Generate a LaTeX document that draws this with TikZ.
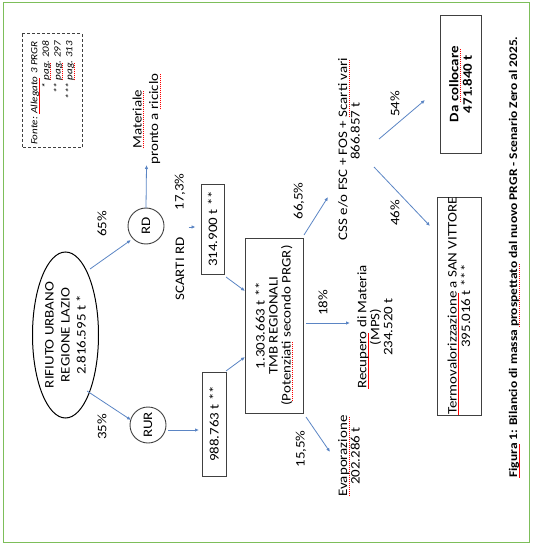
\documentclass[tikz,border=0pt]{standalone}
\usepackage{fontspec}
\setmainfont{Carlito}[FakeStretch=1.15]
\usetikzlibrary{arrows.meta,calc,shapes.geometric}
\definecolor{arr}{HTML}{5B85C4}
\definecolor{framec}{HTML}{7DBE5A}
\definecolor{boxc}{HTML}{404040}
\newsavebox\sqbox
\newcommand\sq[1]{\sbox\sqbox{#1}\rlap{\textcolor{red}{\raisebox{-2pt}{\hbox to \wd\sqbox{\leaders\hbox to 2pt{\rule{1.3pt}{0.6pt}\hss}\hfil}}}}\usebox\sqbox}
\begin{document}
\begin{tikzpicture}[x=1pt,y=-1pt,
  every node/.style={font=\fontsize{13}{13.5}\selectfont, rotate=90, inner sep=0pt, align=center},
  boxn/.style={draw=boxc, line width=0.9pt},
  con/.style={draw=arr, line width=0.8pt, -{Latex[length=4pt,width=3.5pt]}}]
\useasboundingbox (0,0) rectangle (532,545);
\draw[framec, line width=1pt] (3,3) rectangle (529,542);

% legend
\node[draw=boxc, line width=1pt, dash pattern=on 3pt off 2pt, minimum width=114, minimum height=60] (legbox) at (52,91) {};
\node[anchor=east, align=right, font=\itshape\fontsize{9.6}{11.7}\selectfont] (legtxt) at (52.5,41) {Fonte: \sq{Allegato} 3 PRGR\\* \sq{pag.} 208\\** \sq{pag.} 297\\*** \sq{pag.} 313};

% nodes
\node[ellipse, draw=black, line width=1pt, minimum width=166, minimum height=66, font=\fontsize{13}{16}\selectfont] (ell) at (65.5,335) {RIFIUTO URBANO\\REGIONE LAZIO\\2.816.595 t *};
\node[circle, draw=boxc, line width=0.9pt, minimum size=36] (rd) at (146,226) {RD};
\node[circle, draw=boxc, line width=0.9pt, minimum size=36] (rur) at (148,425) {RUR};
\node[font=\fontsize{13}{16.5}\selectfont] (mat) at (146.5,119) {\sq{Materiale}\\pronto a \sq{riciclo}};
\node (scarti) at (180,269) {SCARTI RD};
\node (p173) at (180,192) {17,3\%};
\node[boxn, minimum width=90, minimum height=23] (b314) at (212.5,229) {314.900 t **};
\node[boxn, minimum width=104, minimum height=24] (b988) at (214,424) {988.763 t **};
\node[boxn, minimum width=175, minimum height=58, font=\fontsize{13}{13}\selectfont] (tmb) at (274,325.5) {1.303.663 t **\\TMB REGIONALI\\(\sq{Potenziati} secondo PRGR)};
\node[font=\fontsize{13}{12.5}\selectfont] (css) at (349,149) {CSS e/o FSC + FOS + \sq{Scarti vari}\\\hspace*{36pt}866.857 t};
\node[font=\fontsize{13}{13}\selectfont] (rec) at (375,327) {\sq{Recupero} di Materia\\(MPS)\\234.520 t};
\node[font=\fontsize{13}{12.5}\selectfont] (evap) at (349,456) {\sq{Evaporazione}\\202.286 t};
\node[boxn, minimum width=218, minimum height=44, font=\fontsize{13}{13.5}\selectfont] (termo) at (459,306) {\sq{Termovalorizzazione} a SAN VITTORE\\395.016 t ***};
\node[boxn, minimum width=138, minimum height=41, font=\bfseries\fontsize{13}{13.5}\selectfont] (dac) at (460.5,84) {Da \sq{collocare}\\471.840 t};
\node[font=\bfseries\fontsize{11.7}{15}\selectfont] (cap) at (514,257) {\sq{Figura} 1: Bilancio di massa \sq{prospettato} dal nuovo PRGR - Scenario Zero al 2025.};

% percentages
\node (p65) at (102,224) {65\%};
\node (p35) at (102,427) {35\%};
\node (p665) at (299,201) {66,5\%};
\node (p18) at (323,303) {18\%};
\node (p155) at (301,449) {15,5\%};
\node (p46) at (395,213) {46\%};
\node (p54) at (395,104) {54\%};

% connectors
\draw[con] ($(ell)+(24.5,-66)$) -- ($(rd)+(-15,14)$);
\draw[con] ($(ell)+(21.5,56)$) -- ($(rur)+(-17,-5)$);
\draw[con] ($(rd)+(0,-18)$) -- ($(mat)+(0,46)$);
\draw[con] ($(b314)+(-24,-2)$) -- ($(b314)+(-17,-2)$);
\draw[con] ($(b314)+(13.5,48)$) -- ($(tmb)+(-29,-34.5)$);
\draw[con] ($(rur)+(20,5)$) -- ($(b988)+(-15,6)$);
\draw[con] ($(b988)+(12,-53)$) -- ($(tmb)+(-29,31.5)$);
\draw[con] ($(tmb)+(30,-90.5)$) -- ($(css)+(-21,48)$);
\draw[con] ($(tmb)+(32,-2.5)$) -- ($(rec)+(-25,-4)$);
\draw[con] ($(tmb)+(32,91.5)$) -- ($(evap)+(-19,-4)$);
\draw[con] ($(css)+(25,18)$) -- ($(termo)+(-29,-80)$);
\draw[con] ($(css)+(30,-10)$) -- ($(dac)+(-35.5,16)$);
\end{tikzpicture}
\end{document}
